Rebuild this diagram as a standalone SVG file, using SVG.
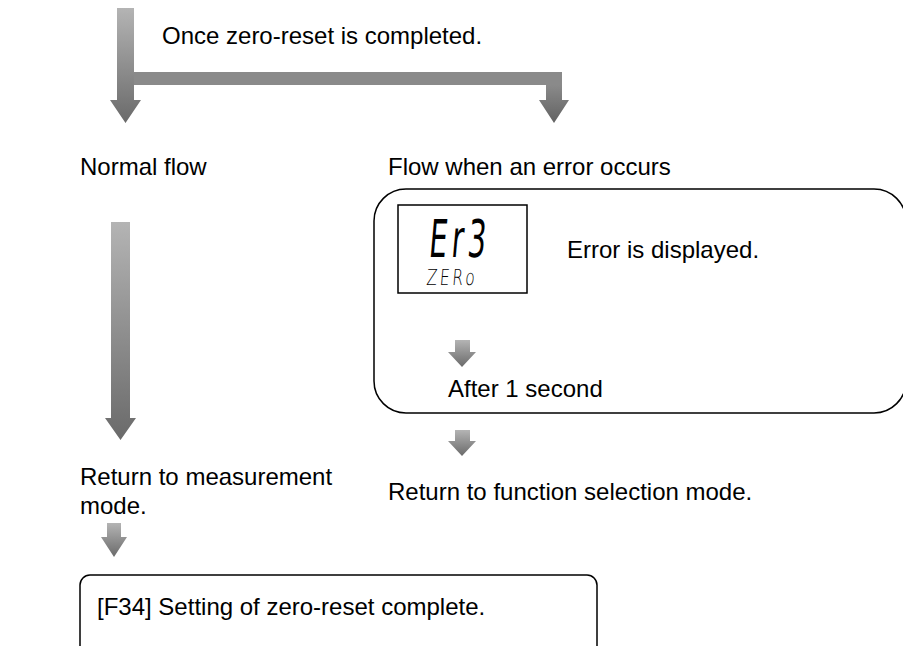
<svg xmlns="http://www.w3.org/2000/svg" width="903" height="646" viewBox="0 0 903 646">
<style>
.t{font-family:"Liberation Sans",Arial,sans-serif;font-size:24px;fill:#000}
.box{fill:#fff;stroke:#000;stroke-width:1.5}
.arr{fill:url(#g)}
.lcd{font-family:"DejaVu Sans","DejaVu Sans Mono",sans-serif;fill:#000}
</style>
<defs>
<linearGradient id="g" x1="0" y1="0" x2="0" y2="1">
<stop offset="0" stop-color="#b4b4b4"/>
<stop offset="1" stop-color="#6a6a6a"/>
</linearGradient>
<linearGradient id="gh" x1="0" y1="0" x2="0" y2="1">
<stop offset="0" stop-color="#8a8a8a"/>
<stop offset="1" stop-color="#626262"/>
</linearGradient>
</defs>
<g id="start">
<text class="t" x="162" y="44">Once zero-reset is completed.</text>
</g>
<g id="normal-flow">
<text class="t" x="80" y="175">Normal flow</text>
</g>
<g id="error-flow">
<text class="t" x="388" y="175">Flow when an error occurs</text>
</g>
<g id="error-box">
<rect class="box" x="374" y="189" width="532" height="224" rx="32" ry="32"/>
<rect x="398" y="205" width="129" height="88" fill="#fff" stroke="#000" stroke-width="1.5"/>
<text class="lcd" x="0" y="0" font-size="52" font-weight="400" letter-spacing="8" transform="translate(428 257) skewX(-5) scale(0.55 1)">Er3</text>
<text class="lcd" x="0" y="0" font-size="22" font-weight="200" letter-spacing="4" transform="translate(426 285) skewX(-5) scale(0.7 1)">ZERo</text>
<text class="t" x="567" y="258">Error is displayed.</text>
<text class="t" x="448" y="397">After 1 second</text>
</g>
<g id="return-measure">
<text class="t" x="80" y="485">Return to measurement</text>
<text class="t" x="80" y="514">mode.</text>
</g>
<g id="return-function">
<text class="t" x="388" y="500">Return to function selection mode.</text>
</g>
<g id="complete">
<rect class="box" x="80" y="575" width="517" height="90" rx="10" ry="10"/>
<text class="t" x="97" y="615">[F34] Setting of zero-reset complete.</text>
</g>
<g id="connectors">
<polygon class="arr" points="117,8 134,8 134,100 141,100 125.5,123 110,100 117,100"/>
<rect x="134" y="72" width="428" height="13" fill="#8a8a8a"/>
<polygon fill="url(#gh)" points="546,85 562,85 562,100 569,100 554,123 539,100 546,100"/>
<polygon class="arr" points="111,222 130,222 130,418 136,418 120.5,440 105,418 111,418"/>
<polygon class="arr" points="455,340 470,340 470,352 476,352 462,367 448,352 455,352"/>
<polygon class="arr" points="455,430 470,430 470,441 476,441 462,456 448,441 455,441"/>
<polygon class="arr" points="107,523 121,523 121,537 127,537 114,557 101,537 107,537"/>
</g>
</svg>
